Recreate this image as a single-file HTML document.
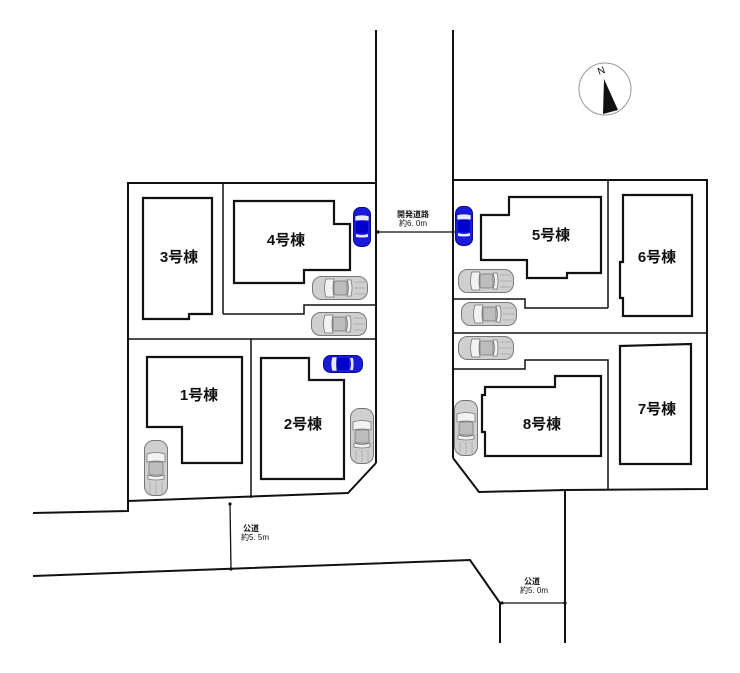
<!DOCTYPE html>
<html><head><meta charset="utf-8"><style>
html,body{margin:0;padding:0;background:#fff;}
svg{display:block;}
text{font-family:"Liberation Sans","Noto Sans CJK JP",sans-serif;}
.b{font-weight:bold;font-size:15px;text-anchor:middle;fill:#111;}
.s{font-size:8px;text-anchor:middle;fill:#111;}
</style></head><body>
<svg width="740" height="673" viewBox="0 0 740 673" xmlns="http://www.w3.org/2000/svg">
<defs>
<g id="car">
<!-- 56x24 car facing left, origin top-left -->
<rect x="0.5" y="0.5" width="55" height="23" rx="9" fill="#cfcfcf" stroke="#777" stroke-width="1"/>
<path d="M14 3 Q11 12 14 21 L22 21 Q20 12 22 3 Z" fill="#f2f2f2" stroke="#777" stroke-width="0.8"/>
<rect x="22" y="5" width="13" height="14" rx="2" fill="#bdbdbd" stroke="#777" stroke-width="0.8"/>
<path d="M35 4 Q38 12 35 20 L39 20 Q41 12 39 4 Z" fill="#f2f2f2" stroke="#777" stroke-width="0.8"/>
<line x1="42" y1="6" x2="53" y2="6" stroke="#999" stroke-width="0.6"/>
<line x1="42" y1="12" x2="54" y2="12" stroke="#999" stroke-width="0.6"/>
<line x1="42" y1="18" x2="53" y2="18" stroke="#999" stroke-width="0.6"/>
</g>
<g id="bcar">
<rect x="0.5" y="0.5" width="39" height="17" rx="7" fill="#1a1adb" stroke="#0a0a8a" stroke-width="1"/>
<path d="M9 2 Q7 9 9 16 L14 16 Q13 9 14 2 Z" fill="#e8e8ff" stroke="#0a0a8a" stroke-width="0.6"/>
<rect x="14" y="3" width="12" height="12" rx="2" fill="#0000cc"/>
<path d="M27 3 Q29 9 27 15 L30 15 Q31 9 30 3 Z" fill="#e8e8ff"/>
</g>
</defs>
<g fill="none" stroke="#111" stroke-width="2">
<!-- central road -->
<line x1="376" y1="30" x2="376" y2="463"/>
<line x1="453" y1="30" x2="453" y2="458"/>
<!-- left block -->
<polyline points="376,183 128,183 128,501"/>
<polyline points="376,463 348,493 128,501"/>
<polyline points="33,513 128,511 128,501"/>
<polyline points="33,576 470,560 500,603 500,643"/>
<line x1="565" y1="490" x2="565" y2="643"/>
<!-- right block -->
<polyline points="453,180 707,180 707,489 566,490 479,492 453,458"/>
</g>
<g fill="none" stroke="#111" stroke-width="1.5">
<line x1="223" y1="183" x2="223" y2="314"/>
<polyline points="223,314 304,314 304,305 376,305"/>
<line x1="128" y1="339" x2="376" y2="339"/>
<line x1="251" y1="339" x2="251" y2="498"/>
<line x1="608" y1="180" x2="608" y2="308"/>
<polyline points="453,299 525,299 525,308 608,308"/>
<line x1="453" y1="333" x2="707" y2="333"/>
<polyline points="453,369 525,369 525,360 608,360 608,490"/>
</g>
<!-- buildings -->
<g fill="#fff" stroke="#111" stroke-width="2.2">
<polygon points="143,198 212,198 212,314 189,314 189,319 143,319"/>
<polygon points="234,201 334,201 334,224 350,224 350,270 304,270 304,283 234,283"/>
<polygon points="147,357 242,357 242,463 182,463 182,427 147,427"/>
<polygon points="261,358 309,358 309,380 344,380 344,479 261,479"/>
<polygon points="509,197 601,197 601,273 567,273 567,278 527,278 527,260 481,260 481,215 509,215"/>
<polygon points="623,195 692,195 692,316 623,316 623,298 620,298 620,262 623,262"/>
<polygon points="620,346 691,344 691,464 620,464"/>
<polygon points="555,376 601,376 601,456 485,456 485,432 482,432 482,395 485,395 485,387 555,387"/>
</g>
<text class="b" x="179" y="262">3号棟</text>
<text class="b" x="286" y="245">4号棟</text>
<text class="b" x="199" y="400">1号棟</text>
<text class="b" x="303" y="429">2号棟</text>
<text class="b" x="551" y="240">5号棟</text>
<text class="b" x="657" y="262">6号棟</text>
<text class="b" x="657" y="414">7号棟</text>
<text class="b" x="542" y="429">8号棟</text>
<!-- cars -->
<use href="#car" transform="translate(312,276)"/>
<use href="#car" transform="translate(311,312)"/>
<use href="#car" transform="translate(168,440) rotate(90)"/>
<use href="#car" transform="translate(374,408) rotate(90) translate(0,0)"/>
<use href="#car" transform="translate(458,269)"/>
<use href="#car" transform="translate(461,302)"/>
<use href="#car" transform="translate(458,336)"/>
<use href="#car" transform="translate(478,400) rotate(90)"/>
<use href="#bcar" transform="translate(323,355)"/>
<use href="#bcar" transform="translate(371,207) rotate(90)"/>
<use href="#bcar" transform="translate(473,206) rotate(90)"/>
<!-- dimensions -->
<g stroke="#111" stroke-width="1.3">
<line x1="378" y1="232" x2="453" y2="232"/>
<line x1="230" y1="504" x2="231" y2="569"/>
<line x1="502" y1="603" x2="565" y2="603"/>
</g>
<g fill="#111"><circle cx="378" cy="232" r="1.6"/><circle cx="453" cy="232" r="1.6"/><circle cx="230" cy="504" r="1.6"/><circle cx="231" cy="569" r="1.6"/><circle cx="502" cy="603" r="1.6"/><circle cx="565" cy="603" r="1.6"/></g>
<text class="s" x="413" y="217" font-weight="bold">開発道路</text>
<text class="s" x="413" y="226">約6. 0m</text>
<text class="s" x="251" y="531" font-weight="bold">公道</text>
<text class="s" x="255" y="540">約5. 5m</text>
<text class="s" x="532" y="584" font-weight="bold">公道</text>
<text class="s" x="534" y="593">約5. 0m</text>
<!-- compass -->
<circle cx="605" cy="89" r="26" fill="#fff" stroke="#999" stroke-width="1"/>
<polygon points="604,79 603,114 618,110" fill="#111"/>
<text x="599" y="75" font-size="10" font-family="Liberation Serif,serif" transform="rotate(-20 599 75)" fill="#111">N</text>
</svg>
</body></html>
